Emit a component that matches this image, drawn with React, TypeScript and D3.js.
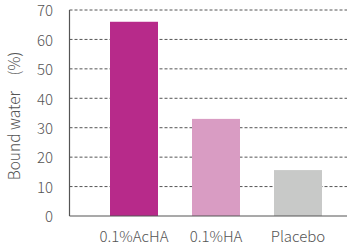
import React from "react";
import * as d3 from "d3";

const categories = ["0.1%AcHA", "0.1%HA", "Placebo"];
const values = [66, 33, 15.6];
const colors = ["#b72a8a", "#d99cc3", "#c8c9c8"];
const yTicks = [0, 10, 20, 30, 40, 50, 60, 70];

export default function App() {
  const W = 347, H = 247;
  const left = 69.5, top = 10, bottom = 216;
  const y = d3.scaleLinear().domain([0, 70]).range([bottom, top]);
  const x = d3.scaleBand().domain(categories).range([110, 322]).paddingInner(1 - 48 / 82).paddingOuter(0);
  const font = "'Noto Sans CJK JP', 'Noto Sans', sans-serif";
  return (
    <svg width={W} height={H} style={{ position: "absolute", left: 0, top: 0 }} fontFamily={font} fontWeight={300}>
      {yTicks.filter(t => t > 0).map(t => (
        <line key={t} x1={left} x2={W} y1={y(t)} y2={y(t)} stroke="#555" strokeWidth={1} strokeDasharray="3,2" />
      ))}
      {categories.map((c, i) => (
        <rect key={c} x={x(c)} y={y(values[i])} width={x.bandwidth()} height={bottom - y(values[i])} fill={colors[i]} />
      ))}
      <line x1={left} x2={left} y1={top} y2={bottom} stroke="#555" strokeWidth={1.2} />
      <line x1={left} x2={W} y1={bottom} y2={bottom} stroke="#555" strokeWidth={1.2} />
      {yTicks.map(t => (
        <text key={t} x={53} y={y(t)} dy="0.42em" textAnchor="end" fontSize={15} fill="#555">{t}</text>
      ))}
      {categories.map(c => (
        <text key={c} x={(x(c) as number) + x.bandwidth() / 2} y={242} textAnchor="middle" fontSize={15} fill="#555">{c}</text>
      ))}
      <text transform={`translate(20,116) rotate(-90)`} textAnchor="middle" fontSize={15.5} fill="#555">Bound water　(%)</text>
    </svg>
  );
}
